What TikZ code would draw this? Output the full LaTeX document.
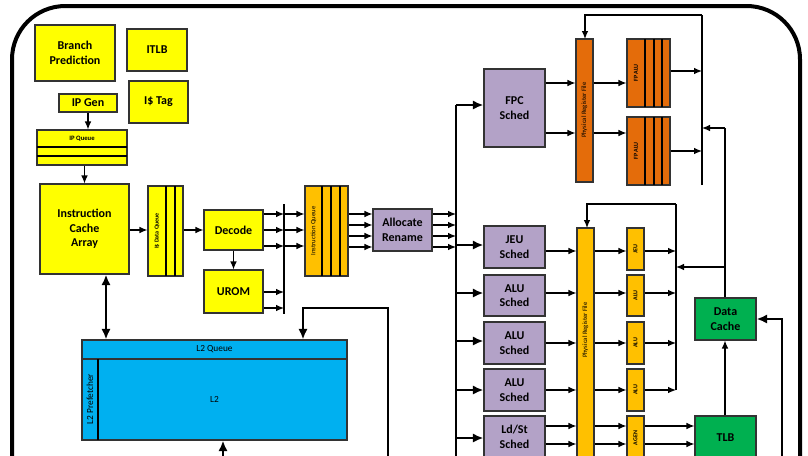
\documentclass[tikz,border=0pt]{standalone}
\usepackage{fontspec}
\setmainfont{Carlito}
\usetikzlibrary{arrows.meta}
\definecolor{cy}{HTML}{FFFF00}
\definecolor{co}{HTML}{E46C0A}
\definecolor{cp}{HTML}{B3A2C7}
\definecolor{cg}{HTML}{FFC000}
\definecolor{cgr}{HTML}{00B050}
\definecolor{cb}{HTML}{00B0F0}
\newcommand\bx[7]{\node[#1,minimum width={(#4-#2)*0.75pt},minimum height={(#5-#3)*0.75pt}] (#6) at ({(#2+#4)/2},{(#3+#5)/2}) {#7};}
\begin{document}
\begin{tikzpicture}[x=0.75pt,y=-0.75pt,
 bb/.style={draw=black!80,line width=0.8pt,inner sep=0pt,align=center,font=\bfseries\small},
 sy/.style={bb,fill=cy}, so/.style={bb,fill=co}, sp/.style={bb,fill=cp}, sg/.style={bb,fill=cg}, sgr/.style={bb,fill=cgr}, sbl/.style={bb,fill=cb,font=\scriptsize},
 ar1/.style={-{Latex[length=6pt,width=5pt]},line width=0.9pt},
 ta/.style={-{Latex[length=8pt,width=7pt]},line width=2pt},
 rl/.style={rotate=90,font=\bfseries\fontsize{4.5}{5}\selectfont,inner sep=0pt}]
\useasboundingbox (0,0) rectangle (808,455);
\clip (0,0) rectangle (808,455);
\draw[line width=3pt,rounded corners=40] (12,470) -- (12,6) -- (800,6) -- (800,470);
% front end
\bx{sy}{35}{25}{115}{81}{bp}{Branch\\Prediction}
\bx{sy}{127}{29}{187}{71}{itlb}{ITLB}
\bx{sy}{129}{81}{188}{123}{itag}{I\$ Tag}
\bx{sy}{59}{94}{117}{112}{ipg}{IP Gen}
\bx{sy}{37}{130}{127}{165}{ipq}{}
\draw[line width=0.8pt] (37,147) -- (127,147) (37,156) -- (127,156);
\node[font=\bfseries\fontsize{5}{6}\selectfont] at (82,138.5) {IP Queue};
\bx{sy}{40}{184}{129}{274}{ica}{Instruction\\Cache\\Array}
\bx{sy}{148}{186}{183}{276}{idq}{}
\draw[line width=0.8pt] (166,186) -- (166,276) (175,186) -- (175,276);
\node[rl] at (157,231) {I\$ Data Queue};
\bx{sy}{204}{210}{263}{250}{dec}{Decode}
\bx{sy}{204}{270}{263}{313}{urom}{UROM}
\coordinate (bt) at (284,204); \coordinate (bbt) at (284,314);
\draw[line width=1.6pt] (bt) -- (bbt);
\bx{sg}{305}{186}{348}{276}{iq}{}
\draw[line width=0.8pt] (322,186) -- (322,276) (331,186) -- (331,276) (340,186) -- (340,276);
\node[rl,font=\fontsize{5}{6}\selectfont] at (313.5,231) {Instruction Queue};
\bx{sp}{373}{209}{432}{251}{arn}{Allocate\\Rename}
\draw[ar1] (ipg) -- (ipg|-ipq.north);
\draw[ar1] (ipq.south-|ica) -- (ica);
\draw[ar1] (ica.east|-0,230) -- (idq.west|-0,230);
\draw[ar1] (idq.east|-0,230) -- (dec.west|-0,230);
\draw[ar1] (dec) -- (urom);
\foreach \yy in {214,230,246}{\draw[ar1] (dec.east|-0,\yy) -- (bt|-0,\yy); \draw[ar1] (bt|-0,\yy) -- (iq.west|-0,\yy);}
\foreach \yy in {292,308}{\draw[ar1] (urom.east|-0,\yy) -- (bt|-0,\yy);}
\foreach \yy in {214,225,236,247}{\draw[ar1] (iq.east|-0,\yy) -- (arn.west|-0,\yy); \draw[ar1] (arn.east|-0,\yy) -- (456,\yy);}
% L2
\bx{sbl}{82}{340}{347}{359}{l2q}{L2 Queue}
\bx{sbl}{82}{359}{347}{440}{l2}{L2}
\draw[line width=0.8pt] (98,359) -- (98,440);
\node[rotate=90,font=\scriptsize] at (90,399) {L2 Prefetcher};
\draw[{Latex[length=8pt,width=7pt]}-{Latex[length=8pt,width=7pt]},line width=2pt] (ica.south-|106,0) -- (l2q.north-|106,0);
\coordinate (l2in) at (388,308);
\draw[ta] (388,470) -- (l2in) -- (303,308) -- (l2q.north-|303,0);
\draw[ta] (223,470) -- (l2.south-|223,0);
% back end bus
\coordinate (vt) at (456,105);
\draw[line width=2pt] (vt) -- (456,470);
\bx{sp}{484}{69}{545}{147}{fpc}{FPC\\Sched}
\bx{sp}{484}{226}{545}{268}{jeu}{JEU\\Sched}
\bx{sp}{484}{275}{545}{316}{alu1}{ALU\\Sched}
\bx{sp}{484}{322}{545}{364}{alu2}{ALU\\Sched}
\bx{sp}{484}{369}{545}{411}{alu3}{ALU\\Sched}
\bx{sp}{484}{416}{545}{458}{ls}{Ld/St\\Sched}
\draw[ta] (vt) -- (fpc.west|-vt);
\foreach \n/\yy in {jeu/245,alu1/293,alu2/341,alu3/390,ls/438}{\draw[ta] (456,\yy) -- (\n.west|-0,\yy);}
% FP
\bx{so}{576}{39}{593}{182}{fprf}{}
\node[rl,font=\fontsize{5}{6}\selectfont] at (584.5,110) {Physical Register File};
\bx{so}{627}{39}{670}{107}{fa1}{}
\bx{so}{627}{117}{670}{185}{fa2}{}
\draw[line width=0.8pt] (645,39)--(645,107) (654,39)--(654,107) (662,39)--(662,107) (645,117)--(645,185) (654,117)--(654,185) (662,117)--(662,185);
\node[rl] at (636,73) {FP ALU}; \node[rl] at (636,151) {FP ALU};
\foreach \yy in {83,133}{\draw[ar1] (fpc.east|-0,\yy) -- (fprf.west|-0,\yy); \draw[ar1] (fprf.east|-0,\yy) -- (fa1.west|-0,\yy);}
\coordinate (fv) at (702,15);
\draw[line width=0.8pt] (702,185) -- (fv);
\draw[ar1] (fv) -- (585,15) -- (585,39);
\draw[ar1] (fa1.east|-0,71) -- (702,71);
\draw[ar1] (fa2.east|-0,151) -- (702,151);
% INT
\bx{sg}{577}{228}{594}{470}{iprf}{}
\node[rl,font=\fontsize{5}{6}\selectfont] at (585.5,330) {Physical Register File};
\bx{sg}{627}{228}{644}{270}{u1}{} \node[rl] at (u1) {JEU};
\bx{sg}{627}{275}{644}{316}{u2}{} \node[rl] at (u2) {ALU};
\bx{sg}{627}{322}{644}{364}{u3}{} \node[rl] at (u3) {ALU};
\bx{sg}{627}{369}{644}{411}{u4}{} \node[rl] at (u4) {ALU};
\bx{sg}{627}{416}{644}{470}{u5}{} \node[rl] at (635.5,438) {AGEN};
\coordinate (iv) at (676,204);
\draw[line width=0.8pt] (676,390) -- (iv);
\draw[ar1] (iv) -- (587,204) -- (587,228);
\foreach \s/\u/\yy in {jeu/u1/251,alu1/u2/293,alu2/u3/343,alu3/u4/390}{\draw[ar1] (\s.east|-0,\yy) -- (iprf.west|-0,\yy); \draw[ar1] (iprf.east|-0,\yy) -- (\u.west|-0,\yy); \draw[ar1] (\u.east|-0,\yy) -- (676,\yy);}
\bx{sgr}{695}{298}{756}{340}{dc}{Data\\Cache}
\bx{sgr}{695}{416}{756}{470}{tlb}{}
\node[font=\bfseries\small] at (725.5,438) {TLB};
\foreach \yy in {426,444}{\draw[ar1] (ls.east|-0,\yy) -- (iprf.west|-0,\yy); \draw[ar1] (iprf.east|-0,\yy) -- (u5.west|-0,\yy); \draw[ar1] (u5.east|-0,\yy) -- (tlb.west|-0,\yy);}
\draw[ar1] (tlb.north-|725,0) -- (dc.south-|725,0);
\draw[line width=0.8pt] (dc.north-|725,0) -- (725,128);
\draw[ar1] (725,128) -- (702,128);
\draw[ar1] (725,267) -- (676,267);
\draw[ta] (782,470) -- (782,319) -- (dc.east|-0,319);
\end{tikzpicture}
\end{document}
